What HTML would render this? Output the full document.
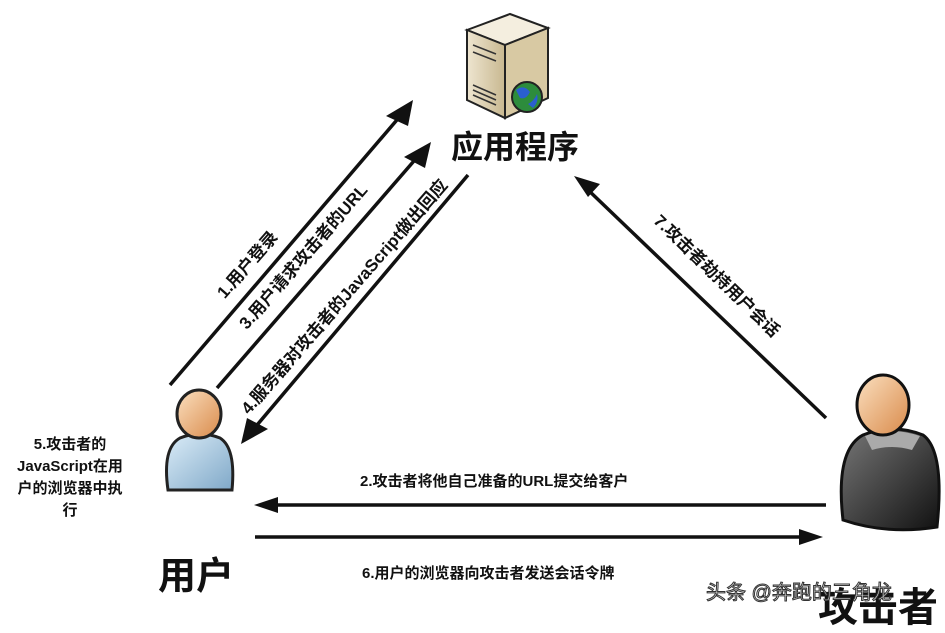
<!DOCTYPE html>
<html><head><meta charset="utf-8"><style>
body{margin:0;width:945px;height:620px;background:#fff;overflow:hidden;position:relative;font-family:"Liberation Sans","Noto Sans CJK SC",sans-serif;}
.t{position:absolute;font-weight:bold;color:#111;white-space:nowrap;}
.r{transform-origin:center center;}
</style></head><body>
<svg width="945" height="620" style="position:absolute;left:0;top:0">
<defs>
<linearGradient id="skin" x1="0" y1="0" x2="1" y2="1"><stop offset="0" stop-color="#fbe0c0"/><stop offset="1" stop-color="#d98a4a"/></linearGradient>
<linearGradient id="blue" x1="0" y1="0" x2="1" y2="1"><stop offset="0" stop-color="#dcedf8"/><stop offset="1" stop-color="#7fa8c8"/></linearGradient>
<linearGradient id="blk" x1="0" y1="0" x2="1" y2="1"><stop offset="0" stop-color="#777"/><stop offset="1" stop-color="#111"/></linearGradient>
<linearGradient id="srv" x1="0" y1="0" x2="1" y2="0"><stop offset="0" stop-color="#eee5d0"/><stop offset="1" stop-color="#c8b890"/></linearGradient>
</defs>
<g stroke="#111" stroke-width="3.5" fill="#111">
<line x1="170" y1="385" x2="402" y2="114"/>
<polygon points="413,100 408,126 386,116" stroke="none"/>
<line x1="217" y1="388" x2="420" y2="154"/><polygon points="431,142 425,168 404,157" stroke="none"/>
<line x1="468" y1="175" x2="252" y2="431"/><polygon points="241,444 247,418 268,429" stroke="none"/>
<line x1="826" y1="418" x2="585" y2="187"/><polygon points="574,176 600,184 588,197" stroke="none"/>
<line x1="826" y1="505" x2="270" y2="505"/><polygon points="254,505 278,497 278,513" stroke="none"/>
<line x1="255" y1="537" x2="808" y2="537"/><polygon points="823,537 799,529 799,545" stroke="none"/>
</g>
<g stroke="#222" stroke-width="2">
<polygon points="467,30 510,14 548,28 505,45" fill="#f4eedf"/>
<polygon points="467,30 505,45 505,118 467,100" fill="url(#srv)"/>
<polygon points="505,45 548,28 548,98 505,118" fill="#d8c9a3"/>
</g>
<g stroke="#333" stroke-width="1.5"><line x1="473" y1="45" x2="496" y2="54"/><line x1="473" y1="52" x2="496" y2="61"/><line x1="473" y1="85" x2="496" y2="95"/><line x1="473" y1="90" x2="496" y2="100"/><line x1="473" y1="95" x2="496" y2="105"/></g>
<circle cx="527" cy="97" r="15" fill="#2d8c3c" stroke="#222" stroke-width="2"/>
<path d="M516,90 q8,-6 14,2 q-4,8 -10,6z M528,104 q6,-3 9,-10 q2,8 -4,14z" fill="#2a5fd0"/>
<path d="M168,490 q-6,-42 12,-52 q20,-8 40,0 q16,10 12,52 z" fill="url(#blue)" stroke="#222" stroke-width="3"/>
<ellipse cx="199" cy="414" rx="22" ry="24" fill="url(#skin)" stroke="#222" stroke-width="3"/>
<path d="M843,520 q-8,-70 20,-85 q30,-12 60,0 q22,16 14,92 q-50,8 -94,-7z" fill="url(#blk)" stroke="#111" stroke-width="3"/>
<path d="M865,436 q25,-10 55,0 l-8,14 q-20,-6 -40,0z" fill="#aaa"/>
<ellipse cx="883" cy="405" rx="26" ry="30" fill="url(#skin)" stroke="#111" stroke-width="3"/>
</svg>
<div class="t" style="left:451px;top:122px;font-size:32px;">应用程序</div>
<div class="t r" style="left:166px;top:251px;font-size:17px;width:160px;text-align:center;transform:rotate(-49deg);">1.用户登录</div>
<div class="t r" style="left:192px;top:243px;font-size:17px;width:220px;text-align:center;transform:rotate(-49deg);">3.用户请求攻击者的URL</div>
<div class="t r" style="left:183px;top:283px;font-size:17px;width:320px;text-align:center;transform:rotate(-49deg);">4.服务器对攻击者的JavaScript做出回应</div>
<div class="t r" style="left:618px;top:262px;font-size:17px;width:200px;text-align:center;transform:rotate(44deg);">7.攻击者劫持用户会话</div>
<div class="t" style="left:360px;top:470px;font-size:15px;">2.攻击者将他自己准备的URL提交给客户</div>
<div class="t" style="left:362px;top:562px;font-size:15px;">6.用户的浏览器向攻击者发送会话令牌</div>
<div class="t" style="left:0;top:434px;width:140px;text-align:center;font-size:15px;line-height:22px;">5.攻击者的<br>JavaScript在用<br>户的浏览器中执<br>行</div>
<div class="t" style="left:158px;top:545px;font-size:38px;">用户</div>
<div class="t" style="left:818px;top:575px;font-size:40px;">攻击者</div>
<div class="t" style="left:706px;top:576px;font-size:20px;font-weight:normal;color:#eee;-webkit-text-stroke:1px #333;">头条 @奔跑的三角龙</div>
</body></html>
